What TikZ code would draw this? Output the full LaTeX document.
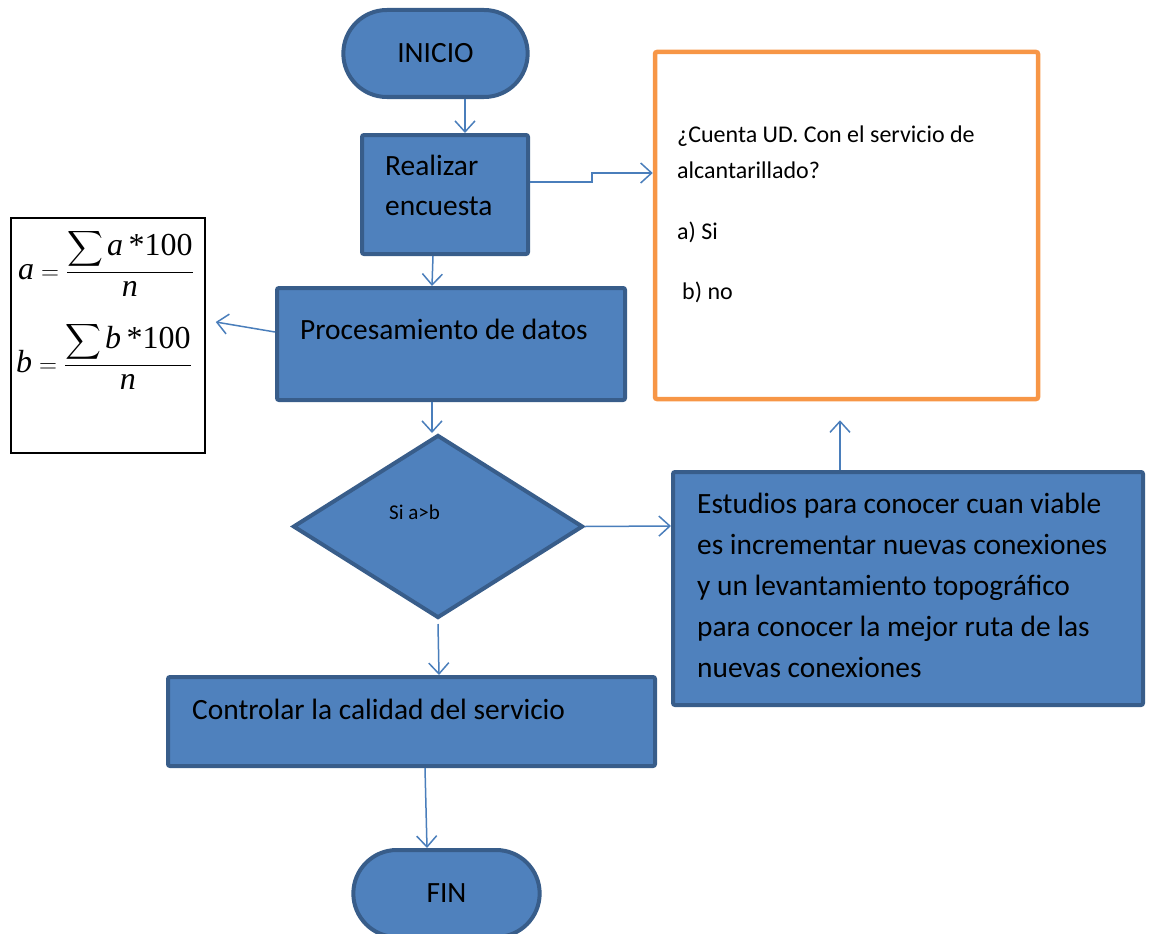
\documentclass[tikz,border=0pt]{standalone}
\usepackage{exscale}
\usepackage{fontspec}
\setmainfont{Carlito}
\newfontfamily\timesf{Liberation Serif}
\usetikzlibrary{shapes.misc,shapes.geometric,arrows.meta}

\definecolor{boxblue}{HTML}{4F81BD}
\definecolor{boxedge}{HTML}{385D8A}
\definecolor{linkblue}{HTML}{4A7EBB}
\definecolor{noteedge}{HTML}{F79646}

\tikzstyle{terminal} = [rounded rectangle, minimum width = 191, minimum height = 87, fill = boxblue, draw = boxedge, line width = 4, font = \fontsize{29.4}{35}\selectfont]
\tikzstyle{process} = [rectangle, rounded corners = 2, fill = boxblue, draw = boxedge, line width = 4]
\tikzstyle{decision} = [diamond, minimum width = 290, minimum height = 183, inner sep = 0, fill = boxblue, draw = boxedge, line width = 4]
\tikzstyle{note} = [rectangle, rounded corners = 2, draw = noteedge, line width = 4.5]
\tikzstyle{txt} = [inner sep = 0, anchor = base west, align = left]
\tikzstyle{formtxt} = [inner sep = 0, anchor = base west, font = \fontsize{32}{38}\selectfont]
\tikzstyle{arrow} = [draw = linkblue, line width = 1.5, -{Straight Barb[length = 11, width = 20]}]

\newcommand{\fracline}[1]{\displaystyle \mbox{\timesf\itshape #1}=\frac{\displaystyle\sum \mbox{\timesf\itshape #1\,\upshape*100}}{\mbox{\timesf\itshape n}}}

\begin{document}
\begin{tikzpicture}[x = 1pt, y = -1pt]

    \useasboundingbox (0,0) rectangle (1149,934);

    % flow
    \node(inicio)[terminal] at (435.5,53.5) {INICIO};
    \node(realizar)[process, minimum width = 166, minimum height = 119] at (445,194.5) {};
    \node(proc)[process, minimum width = 348, minimum height = 112] at (451,344) {};
    \node(cond)[decision] at (438,526.5) {};
    \node(control)[process, minimum width = 487, minimum height = 89] at (411.5,721.5) {};
    \node(fin)[terminal, minimum width = 193] at (446.5,893.5) {FIN};

    % side boxes
    \node(formula)[rectangle, draw = black, line width = 1.5, minimum width = 194, minimum height = 235] at (108,335.5) {};
    \node(question)[note, minimum width = 383, minimum height = 347] at (846.5,225.5) {};
    \node(estudios)[process, minimum width = 470, minimum height = 233] at (908,588.5) {};

    % texts (base = last line)
    \node(realizartxt)[txt, font = \fontsize{29.4}{40}\selectfont] at (385,215) {Realizar\\encuesta};
    \node(proctxt)[txt, font = \fontsize{29.4}{35}\selectfont] at (300,339) {Procesamiento de datos};
    \node(condtxt)[txt, font = \fontsize{21}{25}\selectfont] at (389,519) {Si a>b};
    \node(controltxt)[txt, font = \fontsize{29.4}{35}\selectfont] at (192,719) {Controlar la calidad del servicio};
    \node(estudiostxt)[txt, font = \fontsize{29.4}{41}\selectfont] at (697,677) {Estudios para conocer cuan viable\\es incrementar nuevas conexiones\\y un levantamiento topográfico\\para conocer la mejor ruta de las\\nuevas conexiones};
    \node(qtxt)[txt, font = \fontsize{24}{36}\selectfont] at (677,178) {¿Cuenta UD. Con el servicio de\\alcantarillado?};
    \node(qa)[txt, font = \fontsize{24}{28}\selectfont] at (677,239) {a) Si};
    \node(qb)[txt, font = \fontsize{24}{28}\selectfont] at (682,299) {b) no};
    \node(fa)[formtxt] at (18,279) {$\fracline{a}$};
    \node(fb)[formtxt] at (16,372) {$\fracline{b}$};

    % connectors
    \draw[arrow]([xshift = 29.5]inicio.south) -- ([xshift = 20]realizar.north);
    \draw[arrow]([yshift = 12.5]realizar.east) -- ++(62,0) |- ([yshift = 52.5]question.west);
    \draw[arrow]([xshift = -12]realizar.south) -- ([xshift = -19]proc.north);
    \draw[arrow]([yshift = 12]proc.west) -- ([xshift = 10, yshift = 13.5]formula.east);
    \draw[arrow]([xshift = -19]proc.south) -- ([xshift = -6]cond.north);
    \draw[arrow](cond.east) -- ([yshift = 62.5]estudios.west);
    \draw[arrow]([xshift = -68]estudios.north) -- ([xshift = -6.5, yshift = -19]question.south);
    \draw[arrow]([yshift = -4]cond.south) -- ([xshift = 27.5]control.north);
    \draw[arrow]([xshift = 13.5]control.south) -- ([xshift = -19.5]fin.north);

\end{tikzpicture}
\end{document}
